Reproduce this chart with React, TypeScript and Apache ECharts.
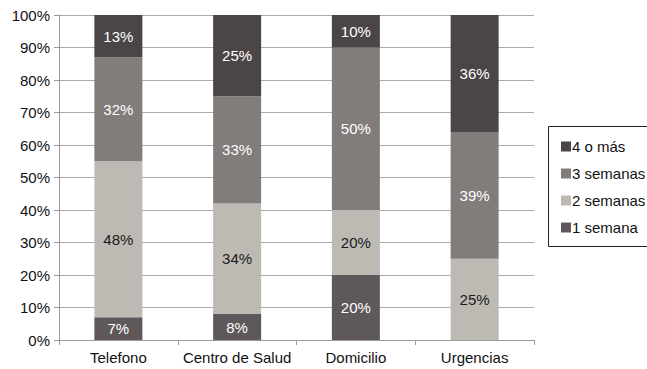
import React, { useEffect, useRef } from "react";
import * as echarts from "echarts";

const categories = ["Telefono", "Centro de Salud", "Domicilio", "Urgencias"];
const seriesNames = ["1 semana", "2 semanas", "3 semanas", "4 o más"];
const unaSemana = [7, 8, 20, 0];
const dosSemanas = [48, 34, 20, 25];
const tresSemanas = [32, 33, 50, 39];
const cuatroOMas = [13, 25, 10, 36];
const legendOrder = ["4 o más", "3 semanas", "2 semanas", "1 semana"];
const colors = ["#5e585a", "#bdbab4", "#827c7b", "#4b4547"];
const labelColors = ["#ffffff", "#1a1a1a", "#ffffff", "#ffffff"];

export default function App() {
  const ref = useRef<HTMLDivElement>(null);
  useEffect(() => {
    if (!ref.current) return;
    const chart = echarts.init(ref.current, undefined, { renderer: "svg" });
    const values = [unaSemana, dosSemanas, tresSemanas, cuatroOMas];
    const font = "'Liberation Sans', Arial, Helvetica, sans-serif";
    chart.setOption({
      animation: false,
      textStyle: { fontFamily: font },
      grid: { left: 59, top: 15, right: 113, bottom: 29, containLabel: false },
      legend: {
        data: legendOrder,
        orient: "vertical",
        left: 561,
        top: 139,
        padding: 0,
        itemWidth: 10,
        itemHeight: 10,
        itemGap: 12,
        icon: "rect",
        textStyle: { fontSize: 15, color: "#111", padding: [0, 0, 0, -4], fontFamily: font, lineHeight: 15 },
      },
      graphic: [
        {
          type: "rect",
          shape: { x: 548.5, y: 126.5, width: 120, height: 120 },
          style: { fill: "none", stroke: "#222", lineWidth: 1 },
          silent: true,
        },
      ],
      xAxis: {
        type: "category",
        data: categories,
        axisLine: { lineStyle: { color: "#999", width: 1 } },
        axisTick: { show: true, alignWithLabel: false, length: 5, lineStyle: { color: "#999" } },
        axisLabel: { interval: 0, fontSize: 15, color: "#111", margin: 10, fontFamily: font },
      },
      yAxis: {
        type: "value",
        min: 0,
        max: 100,
        interval: 10,
        axisLine: { show: true, lineStyle: { color: "#999" } },
        axisTick: { show: true, length: 5, lineStyle: { color: "#999" } },
        axisLabel: { formatter: "{value}%", fontSize: 15, color: "#111", margin: 9, fontFamily: font },
        splitLine: { lineStyle: { color: "#aaa", width: 1 } },
      },
      series: seriesNames.map((name, i) => ({
        name,
        type: "bar",
        stack: "total",
        barWidth: 48,
        data: values[i],
        itemStyle: { color: colors[i] },
        label: {
          show: true,
          position: "inside",
          fontSize: 15,
          color: labelColors[i],
          fontFamily: font,
          formatter: (p: any) => (p.value ? p.value + "%" : ""),
        },
      })),
    });
    return () => chart.dispose();
  }, []);
  return <div ref={ref} style={{ width: 647, height: 369, position: "absolute", left: 0, top: 0 }} />;
}
